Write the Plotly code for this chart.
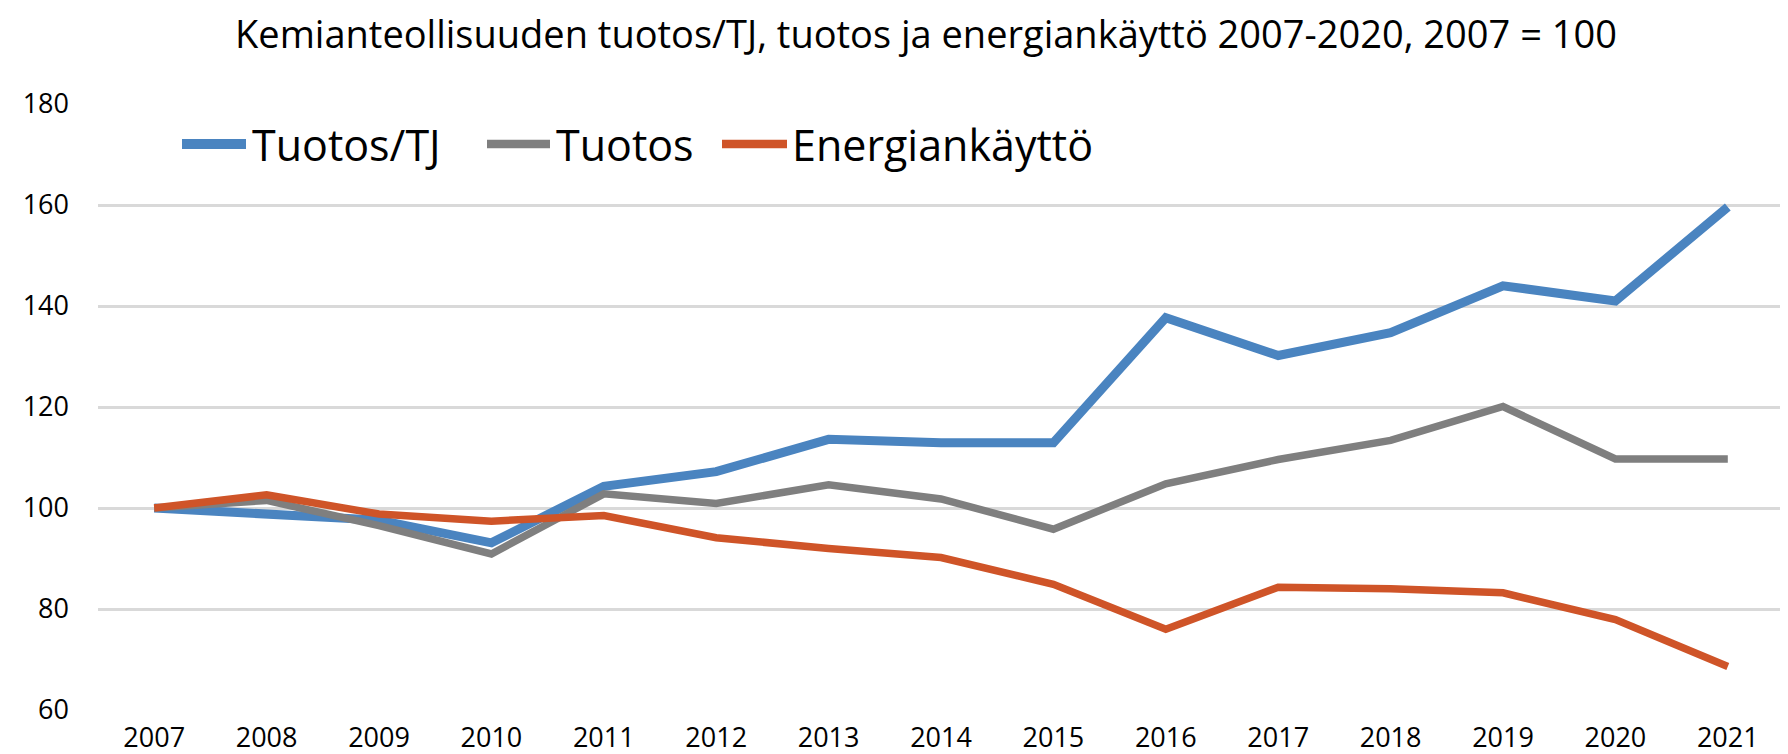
import plotly.graph_objects as go

years = ["2007", "2008", "2009", "2010", "2011", "2012", "2013", "2014",
         "2015", "2016", "2017", "2018", "2019", "2020", "2021"]
tuotos_per_tj = [100, 99.0, 97.6, 93.1, 104.3, 107.2, 113.6, 112.9,
                 112.9, 137.7, 130.2, 134.7, 144.0, 141.0, 159.6]
tuotos = [100, 101.5, 96.5, 90.9, 102.8, 100.9, 104.6, 101.8,
          95.8, 104.8, 109.6, 113.4, 120.1, 109.7, 109.7]
energiankaytto = [100, 102.6, 98.8, 97.4, 98.5, 94.1, 92.0, 90.2,
                  84.9, 76.0, 84.3, 84.0, 83.2, 77.9, 68.6]

series_names = ["Tuotos/TJ", "Tuotos", "Energiankäyttö"]
y_ticks = [60, 80, 100, 120, 140, 160, 180]
title_text = "Kemianteollisuuden tuotos/TJ, tuotos ja energiankäyttö 2007-2020, 2007 = 100"

FONT = "Open Sans, Noto Sans, sans-serif"
W, H = 1788, 754
ML, MR, MT, MB = 90, 12, 96, 52
colors = ["#4A84C0", "#7F7F7F", "#CF5428"]
widths = [9, 7.5, 7.5]

fig = go.Figure()
for name, vals, col, w in zip(series_names, [tuotos_per_tj, tuotos, energiankaytto], colors, widths):
    fig.add_trace(go.Scatter(x=years, y=vals, name=name, mode="lines",
                             line=dict(color=col, width=w), showlegend=False))

# custom legend (line swatch + label), positioned in paper pixels
legend_items = [(174, 238, 242), (479, 542, 546), (714, 779, 782)]
legend_y_px = 136
pw = W - ML - MR
ph = H - MT - MB
for (x0, x1, xt), name, col, w in zip(legend_items, series_names, colors, widths):
    yp = (H - legend_y_px - MB) / ph
    fig.add_shape(type="line", xref="paper", yref="paper",
                  x0=(x0 - ML) / pw, x1=(x1 - ML) / pw, y0=yp, y1=yp,
                  line=dict(color=col, width=w + 1))
    fig.add_annotation(xref="paper", yref="paper", x=(xt - ML) / pw, y=yp,
                       text=name, showarrow=False, xanchor="left", yanchor="middle",
                       font=dict(size=43, family=FONT, color="#000000"))

fig.update_layout(
    width=W, height=H,
    paper_bgcolor="white", plot_bgcolor="white",
    margin=dict(l=ML, r=MR, t=MT, b=MB),
    font=dict(family=FONT, color="#000000"),
    title=dict(text=title_text, x=918 / W, xanchor="center", y=1 - 27 / H, yanchor="middle",
               font=dict(size=38, family=FONT, color="#000000")),
    showlegend=False,
)
fig.update_xaxes(type="category", range=[-0.5, 14.5], showgrid=False, showline=False,
                 zeroline=False, ticks="", automargin=False,
                 tickfont=dict(size=27, family=FONT, color="#000000"),
                 ticklabelstandoff=9)
fig.update_yaxes(range=[60, 180], tickvals=y_ticks, showgrid=True, gridcolor="#D9D9D9",
                 gridwidth=2.5, zeroline=False, showline=False, ticks="", automargin=False,
                 tickfont=dict(size=27, family=FONT, color="#000000"),
                 ticklabelstandoff=28)

fig.write_html("out.html")
